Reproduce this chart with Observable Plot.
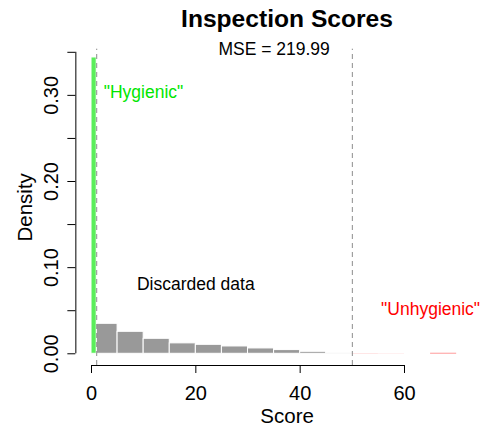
<!DOCTYPE html>
<html><head><meta charset="utf-8">
<script src="https://cdn.jsdelivr.net/npm/d3@7"></script>
<script src="https://cdn.jsdelivr.net/npm/@observablehq/plot@0.6"></script>
<style>
body{margin:0;background:#fff;font-family:"Liberation Sans",Arial,sans-serif;overflow:hidden;}
#title{box-sizing:border-box;width:484px;height:40px;padding:7px 0 0 90px;text-align:center;font-size:24.6px;font-weight:bold;line-height:24px;color:#000;}
#chart svg{display:block;}
</style></head><body>
<div id="title">Inspection Scores</div>
<div id="chart"></div>
<script>
// Histogram bins (Score) and densities
const hygStart = [0], hygEnd = [1], hygDensity = [0.344];
const binStart = [1, 5, 10, 15, 20, 25, 30, 35, 40, 45];
const binEnd   = [5, 10, 15, 20, 25, 30, 35, 40, 45, 50];
const binDensity = [0.0348, 0.0255, 0.0174, 0.0121, 0.0104, 0.0085, 0.0062, 0.0043, 0.0023, 0.0008];
const redStart = [50, 55, 60, 65], redEnd = [55, 60, 65, 70];
const redDensity = [0.00012, 0.00007, 0, 0.00046];
const cutoffs = [1, 50];
const xTicks = [0, 20, 40, 60];
const yTicks = [0, 0.05, 0.10, 0.15, 0.20, 0.25, 0.30, 0.35];
const yLabelValues = [0, 0.10, 0.20, 0.30];
const yLabelText = ["0.00", "0.10", "0.20", "0.30"];
const hygLabel = [{x: 1, y: 0.303, text: '"Hygienic"'}];
const midLabels = [
  {x: 20, y: 0.08, text: "Discarded data", color: "#000000"},
  {x: 35, y: 0.353, text: "MSE = 219.99", color: "#000000"},
  {x: 65, y: 0.052, text: '"Unhygienic"', color: "#ff0000"}
];

const xDomain = [-3, 78];
const yDomain = [-0.0136, 0.3536];

const hyg = hygStart.map((s, i) => ({x1: s, x2: hygEnd[i], y: hygDensity[i]}));
const gray = binStart.map((s, i) => ({x1: s, x2: binEnd[i], y: binDensity[i]}));
const red = redStart.map((s, i) => ({x1: s, x2: redEnd[i], y: redDensity[i]}));

const W = 484, H = 389;
const chart = Plot.plot({
  width: W, height: H,
  marginLeft: 75.35, marginRight: 0, marginTop: 8.7, marginBottom: 64,
  style: {fontFamily: "'Liberation Sans', Arial, sans-serif", fontSize: "17.5px", background: "white", color: "black"},
  x: {domain: xDomain, range: [75.35, 497.9], axis: null},
  y: {domain: yDomain, range: [325, 8.7], axis: null},
  marks: [
    Plot.rectY(gray, {x1: "x1", x2: "x2", y: "y", fill: "#999999", stroke: "white", strokeWidth: 1}),
    Plot.rectY(red, {x1: "x1", x2: "x2", y: "y", fill: "#ff0000"}),
    Plot.rectY(hyg, {x1: "x1", x2: "x2", y: "y", fill: "#5aee5a", stroke: "white", strokeWidth: 1}),
    Plot.ruleX(cutoffs, {y1: yDomain[0], y2: yDomain[1], stroke: "#8c8c8c", strokeDasharray: "5,4"}),
    Plot.ruleY([yDomain[0]], {x1: xTicks[0], x2: xTicks[xTicks.length - 1], stroke: "black"}),
    Plot.ruleX([xDomain[0]], {y1: yTicks[0], y2: yTicks[yTicks.length - 1], stroke: "black"}),
    Plot.axisX({ticks: xTicks, tickSize: 8, tickPadding: 12, fontSize: 20, label: null, anchor: "bottom"}),
    Plot.axisY({ticks: yTicks, tickSize: 8, tickFormat: () => "", label: null, anchor: "left"}),
    Plot.text(yLabelValues, {y: d => d, text: (d, i) => yLabelText[i], frameAnchor: "left", dx: -24.5, rotate: -90, textAnchor: "middle", lineAnchor: "middle", fontSize: 20, fill: "black"}),
    Plot.text(["Density"], {y: [(yDomain[0] + yDomain[1]) / 2], frameAnchor: "left", dx: -50, rotate: -90, textAnchor: "middle", lineAnchor: "middle", fontSize: 20.5, fill: "black"}),
    Plot.text(["Score"], {x: [(xDomain[0] + xDomain[1]) / 2], frameAnchor: "bottom", dy: 51.3, textAnchor: "middle", lineAnchor: "middle", fontSize: 20.5, fill: "black"}),
    Plot.text(hygLabel, {x: "x", y: "y", text: "text", fill: "#00e600", textAnchor: "start", dx: 7, fontSize: 17.5}),
    Plot.text(midLabels, {x: "x", y: "y", text: "text", fill: "color", textAnchor: "middle", fontSize: 17.5})
  ]
});
document.getElementById("chart").appendChild(chart);
</script>
</body></html>
